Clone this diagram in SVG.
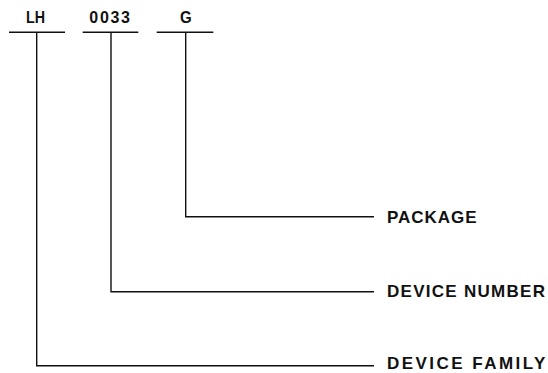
<svg xmlns="http://www.w3.org/2000/svg" width="548" height="373" viewBox="0 0 548 373">
<style>
.t{font-family:"Liberation Sans",Arial,sans-serif;font-weight:bold;fill:#111}
.s{font-size:16px}
.b{font-size:17px}
.l{fill:none;stroke:#111;stroke-width:1.4}
</style>
<rect width="548" height="373" fill="#fff"/>
<g id="field-lh">
<text class="t s" x="26" y="23" textLength="19" lengthAdjust="spacingAndGlyphs">LH</text>
<line class="l" x1="9" y1="32.3" x2="65" y2="32.3"/>
</g>
<g id="field-0033">
<text class="t s" x="89.3" y="23" textLength="40.7" lengthAdjust="spacing">0033</text>
<line class="l" x1="82.7" y1="32.3" x2="138.3" y2="32.3"/>
</g>
<g id="field-g">
<text class="t s" x="180" y="23" textLength="11.7" lengthAdjust="spacingAndGlyphs">G</text>
<line class="l" x1="156.7" y1="32.3" x2="213.3" y2="32.3"/>
</g>
<g id="label-package">
<text class="t b" x="387" y="223" textLength="89.5" lengthAdjust="spacing">PACKAGE</text>
</g>
<g id="label-device-number">
<text class="t b" x="387" y="296.8" textLength="158" lengthAdjust="spacing">DEVICE NUMBER</text>
</g>
<g id="label-device-family">
<text class="t b" x="387" y="369" textLength="158.4" lengthAdjust="spacing">DEVICE FAMILY</text>
</g>
<g id="connectors">
<polyline class="l" points="185.7,32.3 185.7,216.7 374,216.7"/>
<polyline class="l" points="111,32.3 111,291.7 374,291.7"/>
<polyline class="l" points="36.7,32.3 36.7,365.7 374,365.7"/>
</g>
</svg>
